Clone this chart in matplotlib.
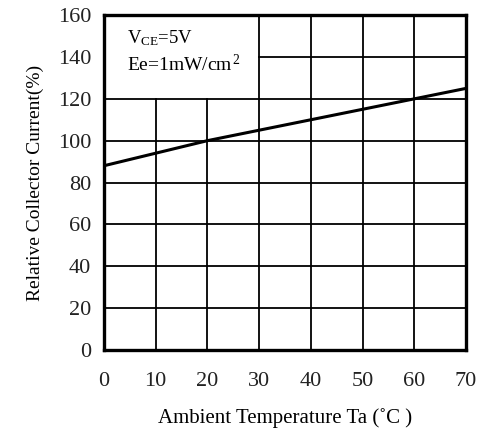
import numpy as np
import matplotlib
matplotlib.use("Agg")
import matplotlib.pyplot as plt

plt.rcParams['font.family'] = ['Liberation Serif', 'DejaVu Serif']
plt.rcParams['mathtext.fontset'] = 'custom'
plt.rcParams['mathtext.rm'] = 'Liberation Serif'
plt.rcParams['mathtext.it'] = 'Liberation Serif:italic'

# data
temp = [0, 10, 20, 30, 40, 50, 60, 70]
rel_current = [88, 94, 100, 105, 110, 115, 120, 125]
x_ticks = [0, 10, 20, 30, 40, 50, 60, 70]
y_ticks = [0, 20, 40, 60, 80, 100, 120, 140, 160]

fig = plt.figure(figsize=(4.83, 4.33), dpi=100)
ax = fig.add_axes([0.215, 0.192, 0.75, 0.773])

# grid, leaving the corner box blank for the conditions text
for y in y_ticks[1:-1]:
    if y == 140:
        ax.plot([30, 70], [y, y], color='black', lw=1.3, zorder=1)
    else:
        ax.plot([0, 70], [y, y], color='black', lw=1.3, zorder=1)
for x in x_ticks[1:-1]:
    if x < 30:
        ax.plot([x, x], [0, 120], color='black', lw=1.3, zorder=1)
    else:
        ax.plot([x, x], [0, 160], color='black', lw=1.3, zorder=1)

ax.plot(temp, rel_current, color='black', lw=2.2, zorder=3)

ax.set_xlim(0, 70)
ax.set_ylim(0, 160)
ax.set_xticks(x_ticks)
ax.set_yticks(y_ticks)
ax.tick_params(length=0, labelsize=16, colors='#222222')
ax.tick_params(axis='x', pad=16)
ax.tick_params(axis='y', pad=9)
for s in ax.spines.values():
    s.set_linewidth(2.4)

ax.text(4.5, 149, r'V$_{\mathrm{CE}}$=5V', fontsize=13.5, va='center')
ax.text(4.5, 136.5, r'Ee=1mW/cm$^{\,2}$', fontsize=14, va='center')

ax.set_xlabel('Ambient Temperature Ta (\u02daC )', fontsize=15, labelpad=12)
ax.set_ylabel('Relative Collector Current(%)', fontsize=14, labelpad=10)

fig.savefig('out.png', dpi=100)
